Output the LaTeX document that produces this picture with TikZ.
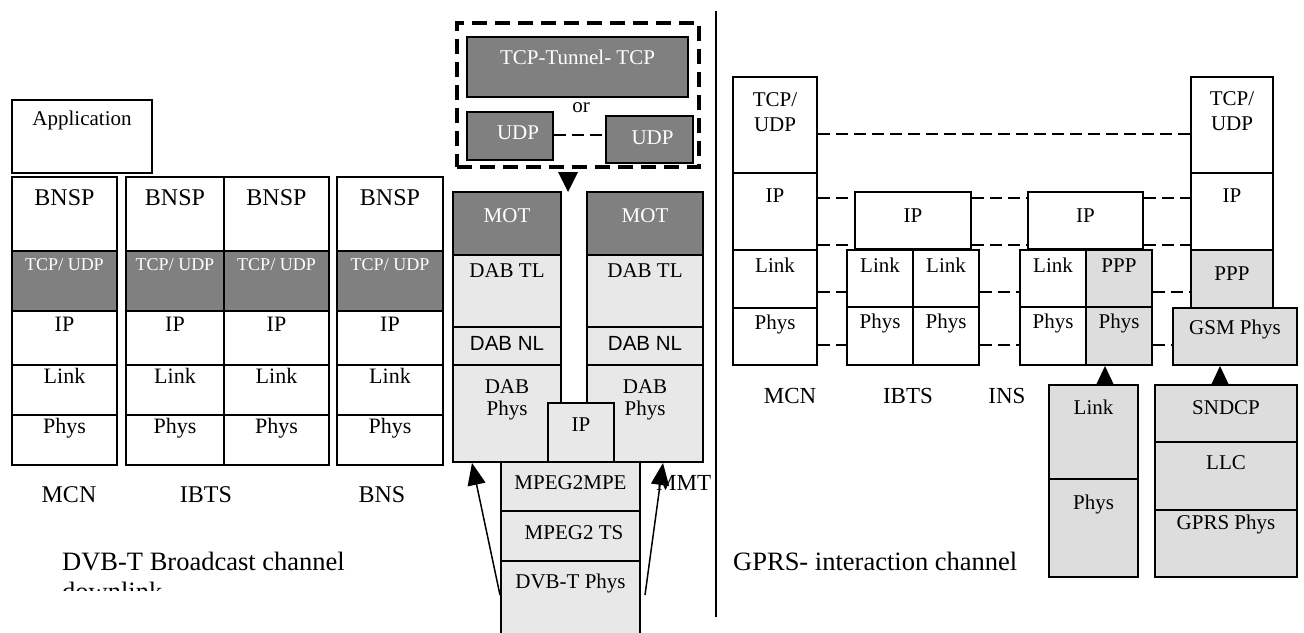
\documentclass[tikz,border=0pt]{standalone}
\usepackage{fontspec}
\setmainfont{Liberation Serif}
\newfontfamily\dabfont{Liberation Sans}
\usetikzlibrary{fit,arrows.meta}

\tikzset{
  layer/.style={draw, line width=2pt, inner sep=0pt, fill=white},
  bcast/.style={layer, line width=2.5pt},
  bdark/.style={bcast, fill=gray},
  dark/.style={layer, fill=gray},
  light/.style={layer, fill=gray!18},
  pale/.style={layer, fill=gray!27},
  txt/.style={anchor=base, inner sep=0pt, font=\fontsize{21}{23}\selectfont},
  chantxt/.style={txt, anchor=base west, font=\fontsize{26.5}{30}\selectfont},
  peer/.style={line width=2pt, dash pattern=on 12pt off 6pt},
  frame/.style={draw, line width=4.5pt, inner sep=0pt, dash pattern=on 15pt off 8pt},
  up/.style={line width=1.5pt, -{Triangle[length=22pt,width=18pt]}},
}
\newcommand\lyr[6][layer]{%
  \node[#1, fit={(#3) (#4)}] (#2) {};
  \node[txt] (#2t) at ([yshift=-#5pt]#2.north) {#6};}
\newcommand\two[2]{\begin{tabular}[t]{@{}c@{}}#1\\#2\end{tabular}}
\newcommand\wt{\color{white}}

\begin{document}
\begin{tikzpicture}[x=1pt,y=-1pt]
  \useasboundingbox (0,0) rectangle (1304,632);

  % broadcast stacks
  \lyr[bcast]{app}{12,100}{152,173}{27}{Application}
  \foreach \xa/\xb/\n in {12/117/a, 126/224/b, 224/329/c, 337/443/d} {
    \lyr[bcast]{bnsp\n}{\xa,177}{\xb,251}{30}{\fontsize{24}{26}\selectfont BNSP}
    \lyr[bdark]{tcp\n}{\xa,251}{\xb,311}{21}{\fontsize{18}{20}\selectfont\wt TCP/ UDP}
    \lyr[bcast]{ip\n}{\xa,311}{\xb,365}{22}{\fontsize{22}{24}\selectfont IP}
    \lyr[bcast]{link\n}{\xa,365}{\xb,415}{20}{\fontsize{22}{24}\selectfont Link}
    \lyr[bcast]{phys\n}{\xa,415}{\xb,465}{20}{\fontsize{22}{24}\selectfont Phys}
  }
  \node[txt, font=\fontsize{24}{26}\selectfont] (lmcn) at (69,502) {MCN};
  \node[txt, font=\fontsize{24}{26}\selectfont] (libts) at (206,502) {IBTS};
  \node[txt, font=\fontsize{24}{26}\selectfont] (lbns) at (382,502) {BNS};
  \node[chantxt] (dvbcap) at (62,570) {DVB-T Broadcast channel};
  \begin{scope}
    \clip (0,0) rectangle (716,590);
    \node[chantxt] (dvbcapb) at (62,600) {downlink};
  \end{scope}

  % tunnel and DAB / DVB-T stacks
  \node[frame, fit={(457,23) (699,167)}] (tunnelbox) {};
  \lyr[dark]{tunnel}{467,37}{688,97}{28}{\wt TCP-Tunnel- TCP}
  \node[txt] (or) at (581,112) {or};
  \lyr[dark]{udpA}{467,112}{553,160}{28}{\wt\hspace{16pt}UDP}
  \lyr[dark]{udpB}{606,116}{693,163}{29}{\wt\hspace{6pt}UDP}
  \draw[peer] (udpA.east |- 0,135) -- (udpB.west |- 0,135);
  \fill (558,172) -- (578,172) -- (568,192) -- cycle;

  \foreach \xa/\xb/\s in {453/561/L, 587/703/R} {
    \lyr[dark]{mot\s}{\xa,192}{\xb,255}{31}{\wt MOT}
    \lyr[light]{tl\s}{\xa,255}{\xb,327}{23}{DAB TL}
    \lyr[light]{nl\s}{\xa,327}{\xb,365}{24}{\fontsize{20.5}{22}\dabfont DAB NL}
    \lyr[light]{dphys\s}{\xa,365}{\xb,462}{29}{\fontsize{21}{22}\selectfont\two{DAB}{Phys}}
  }
  \lyr[light]{ipM}{548,403}{614,462}{29}{IP}
  \lyr[light]{mpe}{501,462}{640,511}{28}{MPEG2MPE}
  \lyr[light]{ts}{501,511}{640,561}{29}{\hspace{7pt}MPEG2 TS}
  \lyr[light]{dvb}{501,561}{640,645}{28}{DVB-T Phys}
  \node[txt, anchor=base west, font=\fontsize{23}{25}\selectfont] (mmt) at (656,490) {MMT};
  \draw[up] ([yshift=8pt]dvb.west) -- ([xshift=20pt]dphysL.south west);
  \draw[up] ([xshift=4pt,yshift=8pt]dvb.east) -- ([xshift=-41pt]dphysR.south east);

  \draw[line width=2pt] (716,11) -- (716,617);

  % GPRS interaction stacks
  \lyr{mtcp}{733,77}{817,173}{30}{\fontsize{21}{25}\selectfont\two{TCP/}{UDP}}
  \lyr{mip}{733,173}{817,250}{30}{IP}
  \lyr{mlink}{733,250}{817,308}{23}{Link}
  \lyr{mphys}{733,308}{817,365}{22}{Phys}

  \lyr{bip}{855,192}{971,249}{31}{IP}
  \lyr{blinkA}{847,250}{913,307}{23}{Link}
  \lyr{blinkB}{913,250}{979,307}{23}{Link}
  \lyr{bphysA}{847,307}{913,365}{22}{Phys}
  \lyr{bphysB}{913,307}{979,365}{22}{Phys}

  \lyr{iip}{1028,192}{1143,249}{31}{IP}
  \lyr{ilink}{1020,250}{1086,307}{23}{Link}
  \lyr[pale]{ippp}{1086,250}{1152,307}{23}{PPP}
  \lyr{iphys}{1020,307}{1086,365}{22}{Phys}
  \lyr[pale]{iphysB}{1086,307}{1152,365}{22}{Phys}

  \lyr{gtcp}{1191,77}{1273,173}{29}{\fontsize{21}{25}\selectfont\two{TCP/}{UDP}}
  \lyr{gip}{1191,173}{1273,250}{30}{IP}
  \lyr[pale]{gppp}{1191,250}{1273,308}{31}{PPP}
  \lyr[pale]{gsm}{1173,308}{1297,365}{27}{GSM Phys}

  \lyr[pale]{slink}{1049,385}{1138,479}{30}{Link}
  \lyr[pale]{sphys}{1049,479}{1138,577}{31}{Phys}
  \lyr[pale]{sndcp}{1155,385}{1297,442}{30}{SNDCP}
  \lyr[pale]{llc}{1155,442}{1297,510}{28}{LLC}
  \lyr[pale]{gprs}{1155,510}{1297,577}{20}{GPRS Phys}
  \fill (1096,385) -- (1114,385) -- (1105,366) -- cycle;
  \fill (1211,385) -- (1229,385) -- (1220,366) -- cycle;

  \draw[peer] (mtcp.east |- 0,134) -- (gtcp.west |- 0,134);
  \foreach \y in {198,245}
    \draw[peer] (mip.east |- 0,\y) -- (bip.west |- 0,\y)
      (bip.east |- 0,\y) -- (iip.west |- 0,\y)
      (iip.east |- 0,\y) -- (gip.west |- 0,\y);
  \draw[peer] (mlink.east |- 0,292) -- (blinkA.west |- 0,292)
    (blinkB.east |- 0,292) -- (ilink.west |- 0,292)
    (ippp.east |- 0,292) -- (gppp.west |- 0,292);
  \draw[peer] (mphys.east |- 0,345) -- (bphysA.west |- 0,345)
    (bphysB.east |- 0,345) -- (iphys.west |- 0,345)
    (iphysB.east |- 0,345) -- (gsm.west |- 0,345);

  \node[txt, font=\fontsize{23}{25}\selectfont] (rmcn) at (790,403) {MCN};
  \node[txt, font=\fontsize{23}{25}\selectfont] (ribts) at (908,403) {IBTS};
  \node[txt, font=\fontsize{23}{25}\selectfont] (rins) at (1007,403) {INS};
  \node[chantxt] (gprscap) at (733,570) {GPRS- interaction channel};
\end{tikzpicture}
\end{document}
